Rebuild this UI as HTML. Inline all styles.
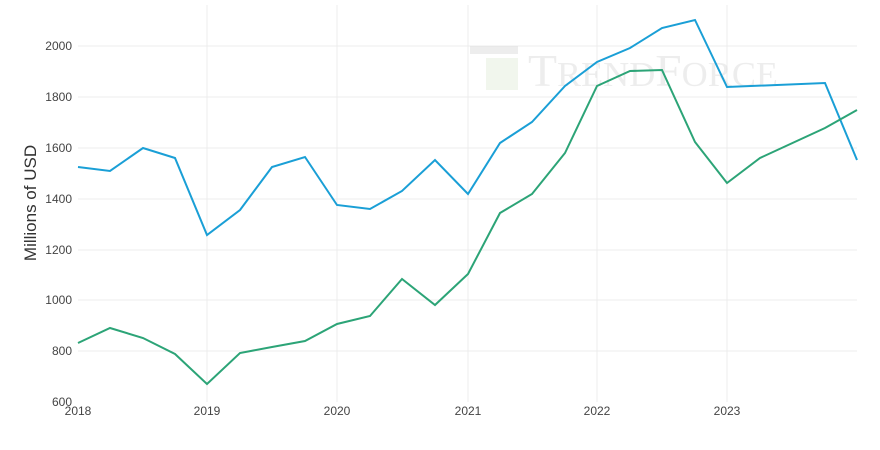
<!DOCTYPE html>
<html><head><meta charset="utf-8"><style>
body{margin:0;background:#fff;}
svg{display:block;font-family:"Liberation Sans",sans-serif;}
</style></head><body>
<svg width="880" height="450" xmlns="http://www.w3.org/2000/svg">
<g stroke="#ececec" stroke-width="1">
<line x1="78" y1="46" x2="857" y2="46"/><line x1="78" y1="97" x2="857" y2="97"/>
<line x1="78" y1="148" x2="857" y2="148"/><line x1="78" y1="199" x2="857" y2="199"/>
<line x1="78" y1="250" x2="857" y2="250"/><line x1="78" y1="300" x2="857" y2="300"/>
<line x1="78" y1="351" x2="857" y2="351"/>
<line x1="207" y1="5" x2="207" y2="402"/><line x1="337" y1="5" x2="337" y2="402"/>
<line x1="468" y1="5" x2="468" y2="402"/><line x1="597" y1="5" x2="597" y2="402"/>
<line x1="727" y1="5" x2="727" y2="402"/>
</g>
<g opacity="0.5">
<rect x="470" y="46" width="48" height="8" fill="#ddd"/>
<rect x="486" y="58" width="32" height="32" fill="#e4eedc"/>
<text x="528" y="86" font-family="Liberation Serif,serif" font-size="46" fill="#ddd" textLength="250" lengthAdjust="spacingAndGlyphs">T<tspan font-size="35">REND</tspan>F<tspan font-size="35">ORCE</tspan></text>
</g>
<g font-size="12" fill="#444" text-anchor="end">
<text x="72" y="50">2000</text><text x="72" y="101">1800</text><text x="72" y="152">1600</text>
<text x="72" y="203">1400</text><text x="72" y="254">1200</text><text x="72" y="304">1000</text>
<text x="72" y="355">800</text><text x="72" y="406">600</text>
</g>
<g font-size="12" fill="#444" text-anchor="middle">
<text x="78" y="415">2018</text><text x="207" y="415">2019</text><text x="337" y="415">2020</text>
<text x="468" y="415">2021</text><text x="597" y="415">2022</text><text x="727" y="415">2023</text>
</g>
<text transform="translate(36,203) rotate(-90)" font-size="17" fill="#333" text-anchor="middle">Millions of USD</text>
<polyline fill="none" stroke="#1a9fd6" stroke-width="2" points="78,167 110,171 143,148 175,158 207,235 240,210 272,167 305,157 337,205 370,209 402,191 435,160 468,194 500,143 532,122 565,86 597,62 630,48 662,28 695,20 727,87 825,83 857,160"/>
<polyline fill="none" stroke="#2ca477" stroke-width="2" points="78,343 110,328 143,338 175,354 207,384 240,353 272,347 305,341 337,324 370,316 402,279 435,305 468,274 500,213 532,194 565,153 597,86 630,71 662,70 695,142 727,183 760,158 825,128 857,110"/>
</svg>
</body></html>
